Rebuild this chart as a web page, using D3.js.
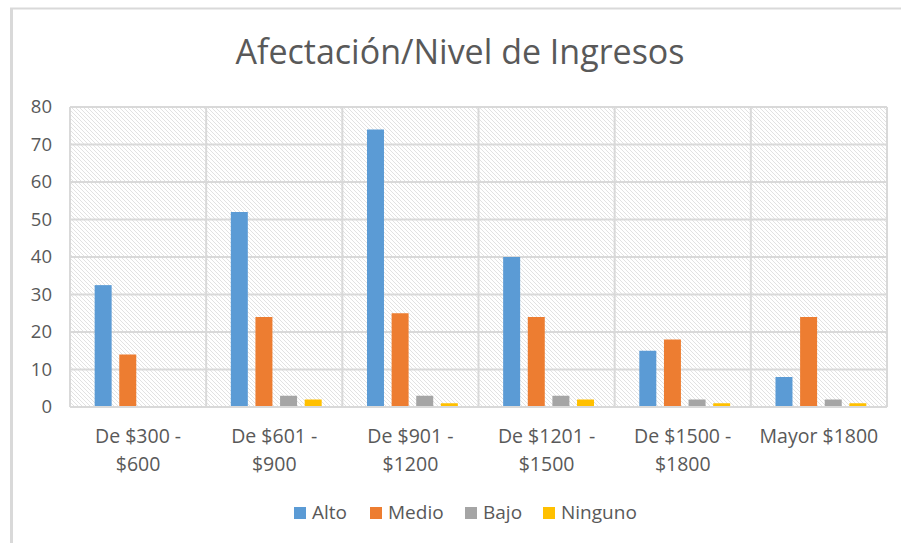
<!DOCTYPE html>
<html>
<head>
<meta charset="utf-8">
<script src="https://cdn.jsdelivr.net/npm/d3@7"></script>
<style>
  body { margin: 0; background: #fff; }
  text { font-family: "Open Sans", "Liberation Sans", sans-serif; fill: #595959; }
</style>
</head>
<body>
<div id="chart"></div>
<script>
// data
const categories = [["De $300 -", "$600"], ["De $601 -", "$900"], ["De $901 -", "$1200"],
  ["De $1201 -", "$1500"], ["De $1500 -", "$1800"], ["Mayor $1800"]];
const seriesNames = ["Alto", "Medio", "Bajo", "Ninguno"];
const alto = [32.5, 52, 74, 40, 15, 8];
const medio = [14, 24, 25, 24, 18, 24];
const bajo = [0, 3, 3, 3, 2, 2];
const ninguno = [0, 2, 1, 2, 1, 1];
const yTicks = [0, 10, 20, 30, 40, 50, 60, 70, 80];
const colors = ["#5B9BD5", "#ED7D31", "#A5A5A5", "#FFC000"];

const width = 901, height = 543;
const plot = { left: 70, right: 887, top: 107, bottom: 407 };
const values = [alto, medio, bajo, ninguno];

const svg = d3.select("#chart").append("svg")
  .attr("width", width)
  .attr("height", height);

svg.append("rect").attr("width", width).attr("height", height).attr("fill", "#fff");

// chart frame, only left and top edges are visible
svg.append("line").attr("x1", 11.5).attr("x2", 11.5).attr("y1", 8).attr("y2", 543)
  .attr("stroke", "#d9d9d9").attr("stroke-width", 3);
svg.append("line").attr("x1", 10).attr("x2", 901).attr("y1", 8.5).attr("y2", 8.5)
  .attr("stroke", "#d9d9d9").attr("stroke-width", 2);

// hatch fill of the plot area
const defs = svg.append("defs");
const pat = defs.append("pattern")
  .attr("id", "hatch")
  .attr("patternUnits", "userSpaceOnUse")
  .attr("width", 4).attr("height", 4);
pat.append("rect").attr("width", 4).attr("height", 4).attr("fill", "#fff");
pat.append("path")
  .attr("d", "M0,0L4,4M-1,3L1,5M3,-1L5,1")
  .attr("stroke", "#e2e2e2").attr("stroke-width", 1);

const catLabels = categories.map(c => c.join(" "));
const x0 = d3.scaleBand().domain(catLabels).range([plot.left, plot.right]);
const x1 = d3.scaleBand().domain(seriesNames).range([2, x0.bandwidth() + 2])
  .paddingInner(0.31).paddingOuter(0.92);
const y = d3.scaleLinear().domain([0, 80]).range([plot.bottom, plot.top]);

svg.append("rect")
  .attr("x", plot.left).attr("y", plot.top)
  .attr("width", plot.right - plot.left).attr("height", plot.bottom - plot.top)
  .attr("fill", "url(#hatch)");

// gridlines
svg.append("g").selectAll("line").data(yTicks).join("line")
  .attr("x1", plot.left).attr("x2", plot.right)
  .attr("y1", d => y(d)).attr("y2", d => y(d))
  .attr("stroke", "#d9d9d9").attr("stroke-width", 2);
svg.append("g").selectAll("line").data(catLabels.concat([null])).join("line")
  .attr("x1", (d, i) => i < catLabels.length ? x0(d) : plot.right)
  .attr("x2", (d, i) => i < catLabels.length ? x0(d) : plot.right)
  .attr("y1", plot.top).attr("y2", plot.bottom)
  .attr("stroke", "#d9d9d9").attr("stroke-width", 2);

// bars
const groups = svg.append("g").selectAll("g").data(catLabels).join("g")
  .attr("transform", d => `translate(${x0(d)},0)`);
groups.selectAll("rect")
  .data((d, ci) => seriesNames.map((s, si) => ({ s, si, v: values[si][ci] })))
  .join("rect")
  .attr("x", d => x1(d.s))
  .attr("width", x1.bandwidth())
  .attr("y", d => y(d.v))
  .attr("height", d => y(0) - y(d.v))
  .attr("fill", d => colors[d.si]);

// baseline
svg.append("line").attr("x1", plot.left).attr("x2", plot.right)
  .attr("y1", y(0)).attr("y2", y(0))
  .attr("stroke", "#d9d9d9").attr("stroke-width", 2);

// y axis labels
const yAxis = d3.axisLeft(y).tickValues(yTicks).tickSize(0).tickPadding(18);
const yg = svg.append("g").attr("transform", `translate(${plot.left},0)`).call(yAxis);
yg.select(".domain").remove();
yg.selectAll("text").attr("font-size", 18.5).style("font-family", null).attr("fill", "#595959");

// x axis labels (two lines)
const xl = svg.append("g").selectAll("text").data(categories).join("text")
  .attr("x", (d, i) => x0(catLabels[i]) + x0.bandwidth() / 2)
  .attr("y", 443)
  .attr("text-anchor", "middle")
  .attr("font-size", 19.5);
xl.selectAll("tspan").data(d => d).join("tspan")
  .attr("x", function () { return d3.select(this.parentNode).attr("x"); })
  .attr("dy", (d, i) => i === 0 ? 0 : 28)
  .text(d => d);

// title
svg.append("text")
  .attr("x", 460).attr("y", 64)
  .attr("text-anchor", "middle")
  .attr("font-size", 34)
  .text("Afectación/Nivel de Ingresos");

// legend
const legendX = [294, 370, 465, 543];
const leg = svg.append("g").selectAll("g").data(seriesNames).join("g")
  .attr("transform", (d, i) => `translate(${legendX[i]},507)`);
leg.append("rect").attr("width", 12).attr("height", 12).attr("fill", (d, i) => colors[i]);
leg.append("text").attr("x", 18).attr("y", 12).attr("font-size", 19).text(d => d);
</script>
</body>
</html>
